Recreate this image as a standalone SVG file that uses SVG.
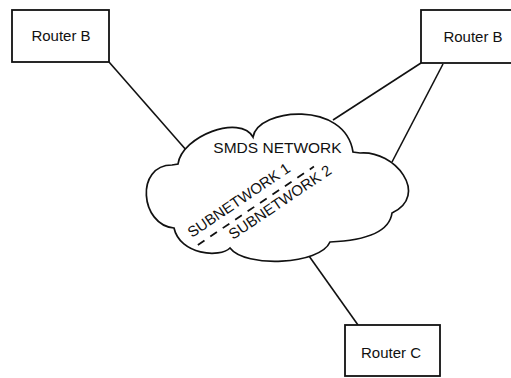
<svg xmlns="http://www.w3.org/2000/svg" width="511" height="378" viewBox="0 0 511 378">
<style>
.box{fill:#fff;stroke:#111;stroke-width:1.8}
.lbl{font-family:"Liberation Sans",Arial,sans-serif;font-size:15px;fill:#111}
.conn{stroke:#111;stroke-width:1.6;fill:none}
</style>
<rect width="511" height="378" fill="#fff"/>
<g id="connectors">
<line class="conn" x1="109" y1="62" x2="187" y2="151"/>
<line class="conn" x1="421" y1="63" x2="333" y2="120"/>
<line class="conn" x1="443" y1="64" x2="392" y2="162"/>
<line class="conn" x1="309" y1="256" x2="358" y2="325"/>
</g>
<g id="cloud">
<path d="M178,164 C182,136 240,114 253,137 C258,108 345,100 353,152 L360,153 C395,150 430,195 392,213 C390,228 375,240 330,242 C320,265 245,268 230,248 C220,258 180,255 174,228 C140,225 135,165 172,165 Z" fill="#fff" stroke="#111" stroke-width="1.7"/>
<text class="lbl" x="277.5" y="153" text-anchor="middle" style="font-size:15.5px">SMDS NETWORK</text>
<g transform="rotate(-34 192 238)">
<text class="lbl" x="192" y="238">SUBNETWORK 1</text>
<line x1="193" y1="247" x2="333" y2="247" stroke="#111" stroke-width="1.8" stroke-dasharray="8,7"/>
<text class="lbl" x="225" y="262.6">SUBNETWORK 2</text>
</g>
</g>
<g id="routerB1">
<rect class="box" x="12" y="10" width="97" height="52"/>
<text class="lbl" x="61" y="41" text-anchor="middle">Router B</text>
</g>
<g id="routerB2">
<rect class="box" x="421" y="10" width="95" height="53"/>
<text class="lbl" x="473" y="42" text-anchor="middle">Router B</text>
</g>
<g id="routerC">
<rect class="box" x="345" y="325" width="95" height="51"/>
<text class="lbl" x="391" y="358" text-anchor="middle">Router C</text>
</g>
</svg>
